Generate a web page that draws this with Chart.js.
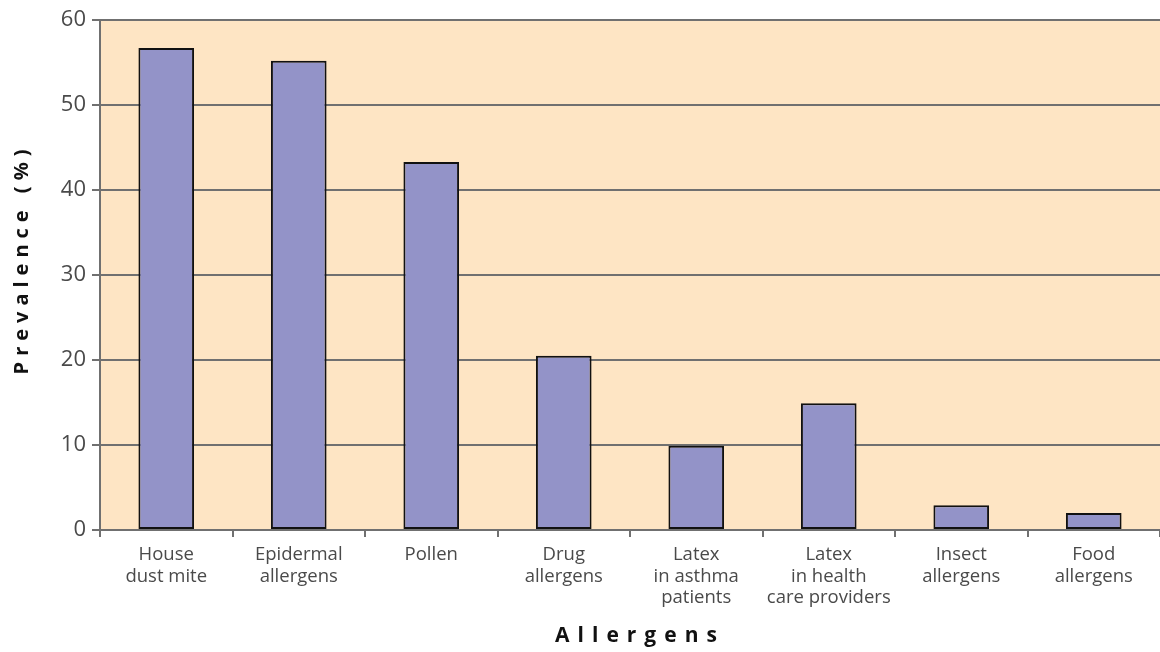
<!DOCTYPE html>
<html>
<head>
<meta charset="utf-8">
<script src="https://cdn.jsdelivr.net/npm/chart.js@4"></script>
<style>
  html, body { margin: 0; padding: 0; background: #fff; }
  #wrap { width: 1160px; height: 652px; }
</style>
</head>
<body>
<div id="wrap"><canvas id="chart" width="1160" height="652"></canvas></div>
<script>
// Allergen prevalence data
const categories = [
    ['House', 'dust mite'],
    ['Epidermal', 'allergens'],
    ['Pollen'],
    ['Drug', 'allergens'],
    ['Latex', 'in asthma', 'patients'],
    ['Latex', 'in health', 'care providers'],
    ['Insect', 'allergens'],
    ['Food', 'allergens']
];
const prevalence = [56.7, 55.2, 43.3, 20.5, 9.9, 14.9, 2.9, 2.0];
const yTicks = [0, 10, 20, 30, 40, 50, 60];
const yTitle = 'Prevalence (%)';
const xTitle = 'Allergens';

const gridColor = '#707070';
const labelColor = '#4a4a4a';

// Paint the plot background and the spaced-out axis titles
const decor = {
    id: 'decor',
    beforeDraw(chart) {
        const { ctx, chartArea: a } = chart;
        ctx.save();
        ctx.fillStyle = '#fee5c4';
        ctx.fillRect(a.left, a.top, a.right - a.left, a.bottom - a.top);
        ctx.restore();
    },
    afterDraw(chart) {
        const { ctx } = chart;
        ctx.save();
        ctx.fillStyle = '#111';
        ctx.textAlign = 'center';
        ctx.textBaseline = 'middle';
        ctx.letterSpacing = '6px';
        ctx.font = 'bold 20px "Open Sans"';
        ctx.translate(22, 262);
        ctx.rotate(-Math.PI / 2);
        ctx.fillText(yTitle, 3, 0);
        ctx.restore();

        ctx.save();
        ctx.fillStyle = '#111';
        ctx.textAlign = 'center';
        ctx.textBaseline = 'middle';
        ctx.letterSpacing = '8px';
        ctx.font = 'bold 21px "Open Sans"';
        ctx.fillText(xTitle, 636 + 4, 636);
        ctx.restore();
    }
};

new Chart(document.getElementById('chart'), {
    type: 'bar',
    data: {
        labels: categories,
        datasets: [{
            data: prevalence,
            backgroundColor: '#9393c8',
            borderColor: '#111',
            borderWidth: 2,
            borderSkipped: false,
            barPercentage: 0.42,
            categoryPercentage: 1
        }]
    },
    options: {
        responsive: false,
        animation: false,
        layout: { padding: { top: 20, right: 0, left: 0, bottom: 0 } },
        plugins: {
            legend: { display: false },
            tooltip: { enabled: false }
        },
        scales: {
            x: {
                grid: {
                    offset: true,
                    drawOnChartArea: false,
                    drawTicks: true,
                    tickLength: 7,
                    color: gridColor,
                    lineWidth: 2
                },
                border: { color: gridColor, width: 2 },
                ticks: {
                    color: labelColor,
                    font: { family: '"Open Sans"', size: 18.5, lineHeight: 1.17 },
                    padding: 7,
                    maxRotation: 0,
                    autoSkip: false
                },
                afterFit: scale => { scale.height = 122; }
            },
            y: {
                min: 0,
                max: 60,
                afterBuildTicks: scale => {
                    scale.ticks = yTicks.map(v => ({ value: v }));
                },
                grid: {
                    color: gridColor,
                    lineWidth: 2,
                    tickLength: 8
                },
                border: { color: gridColor, width: 2 },
                ticks: {
                    color: labelColor,
                    font: { family: '"Open Sans"', size: 22 },
                    padding: 6
                },
                afterFit: scale => { scale.width = 100; }
            }
        }
    },
    plugins: [decor]
});
</script>
</body>
</html>
